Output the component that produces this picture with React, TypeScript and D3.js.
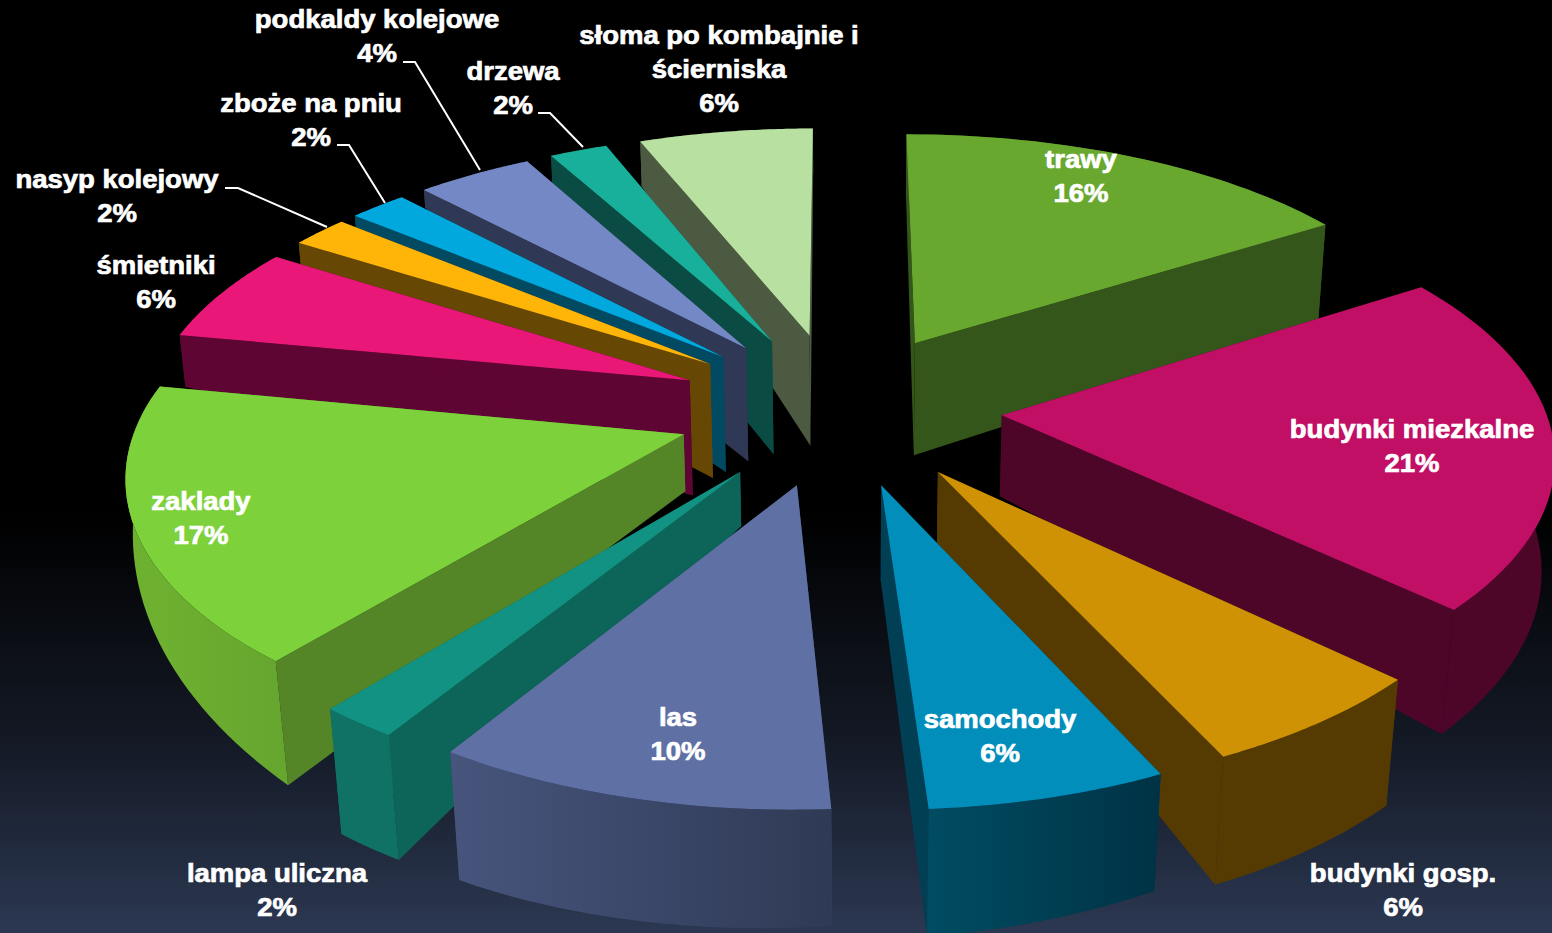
import React from "react";
import * as d3 from "d3";

const categories = ["trawy","budynki miezkalne","budynki gosp.","samochody","las","lampa uliczna","zaklady","śmietniki","nasyp kolejowy","zboże na pniu","podkaldy kolejowe","drzewa","słoma po kombajnie i"];
const values = [16,21,6,6,10,2,17,6,2,2,4,2,6];
const percentLabels = ["16%","21%","6%","6%","10%","2%","17%","6%","2%","2%","4%","2%","6%"];

// Appearance of each slice
const topColors = ["#69a82f","#c10f66","#ce9204","#028eba","#5e70a4","#129282","#7dd13a","#e91878","#ffb508","#00a8dd","#7488c6","#18b09b","#b8e0a0"];
const sideColors = ["#35561a","#4d0528","#553a02","#013f55","#3a4768","#0c6558","#548628","#5f0533","#664703","#024a62","#2f3855","#0a4c43","#4d5a42"];
const outerFrom = ["#35561a","#4d0528","#553a02","#004c62","#47557d","#0f7264","#6eb030","#5f0533","#664703","#024a62","#2f3855","#0a4c43","#4d5a42"];
const outerTo = ["#35561a","#4d0528","#553a02","#003245","#2f3a55","#0f7264","#66a62f","#5f0533","#664703","#024a62","#2f3855","#0a4c43","#4d5a42"];
// Wall depth per slice in px: at the apex, at the arc start, at the arc end
const depthApex = [112,81,71,95,90,54,57,115,114,115,113,113,110];
const depthStart = [60,100,126,117,117,125,124,52,22,14,18,28,45];
const depthEnd = [100,124,128,128,128,125,30,30,20,14,18,28,45];

const labelX = [1081,1412,1403,1000,678,277,201,156,117,311,377,513,719];
const labelY = [160,430,874,720,718,874,502,266,180,104,20,72,36];
const leaders: [number,number][][] = [
  [[225,188],[238,188],[327,227]],
  [[337,145],[349,145],[385,203]],
  [[403,62],[415,62],[480,170]],
  [[538,113],[550,113],[583,147]],
];

const W = 1552, H = 933;
const cx = 839, cy = 408, S = 543, T = 255, perspX = 0.13, perspY = 0.14, explode = 0.3;
const nadirX = 857, nadirY = 6500;

const project = (u: number, v: number): [number, number] => [
  cx + (S * u) / (1 + perspX * v),
  cy - (T * v) / (1 + perspY * v),
];
const drop = (p: [number, number], d: number): [number, number] => [
  p[0] + ((nadirX - p[0]) * d) / (nadirY - p[1]),
  p[1] + d,
];

const pieGen = d3.pie<number>().sort(null).startAngle(0).endAngle(2 * Math.PI);
const arcs = pieGen(values);
const line = d3.line<[number, number]>();

const slices = arcs.map((a, i) => {
  const mid = (a.startAngle + a.endAngle) / 2;
  const ou = explode * Math.sin(mid), ov = explode * Math.cos(mid);
  const apex = project(ou, ov);
  const angles = d3.range(0, 41).map((k) => a.startAngle + ((a.endAngle - a.startAngle) * k) / 40);
  const rim = angles.map((t) => project(ou + Math.sin(t), ov + Math.cos(t)));
  const depthAt = d3.scaleLinear().domain([0, 40]).range([depthStart[i], depthEnd[i]]);
  const rimLow = rim.map((p, k) => drop(p, depthAt(k)));
  const apexLow = drop(apex, depthApex[i]);
  return { i, mid, apex, apexLow, rim, rimLow };
});
const order = [...slices].sort((a, b) => Math.cos(b.mid) - Math.cos(a.mid));

export default function App() {
  return (
    <svg width={W} height={H} viewBox={`0 0 ${W} ${H}`} style={{ position: "absolute", left: 0, top: 0, display: "block" }}>
      <defs>
        <linearGradient id="bg" x1="0" y1="0" x2="0" y2="1">
          <stop offset="0" stopColor="#000000" />
          <stop offset="0.55" stopColor="#000000" />
          <stop offset="0.8" stopColor="#141a26" />
          <stop offset="1" stopColor="#2c3852" />
        </linearGradient>
        {slices.map((s) => (
          <linearGradient key={s.i} id={`outer${s.i}`} gradientUnits="userSpaceOnUse"
            x1={Math.min(s.rim[0][0], s.rim[40][0])} y1="0" x2={Math.max(s.rim[0][0], s.rim[40][0])} y2="0">
            <stop offset="0" stopColor={outerFrom[s.i]} />
            <stop offset="1" stopColor={outerTo[s.i]} />
          </linearGradient>
        ))}
      </defs>
      <rect width={W} height={H} fill="url(#bg)" />
      {order.map((s) => {
        const last = s.rim.length - 1;
        return (
          <g key={s.i}>
            <path d={line([s.apex, s.rim[0], s.rimLow[0], s.apexLow])! + "Z"} fill={sideColors[s.i]} />
            <path d={line([s.apex, s.rim[last], s.rimLow[last], s.apexLow])! + "Z"} fill={sideColors[s.i]} />
            <path d={line([...s.rim, ...[...s.rimLow].reverse()])! + "Z"} fill={`url(#outer${s.i})`} />
            <path d={line([s.apex, ...s.rim])! + "Z"} fill={topColors[s.i]} />
          </g>
        );
      })}
      {leaders.map((pts, k) => (
        <polyline key={k} points={pts.map((p) => p.join(",")).join(" ")} fill="none" stroke="#ffffff" strokeWidth={2} />
      ))}
      <g fontFamily="'Liberation Sans', Arial, sans-serif" fontWeight="700" fontSize={25} fill="#ffffff" stroke="#ffffff" strokeWidth={0.7} textAnchor="middle">
        {categories.map((name, k) => (
          <g key={k} transform={`translate(${labelX[k]},${labelY[k]}) scale(1.1,1)`}>
            <text y={8}>{name}</text>
            {k === 12 ? <text y={42}>ścierniska</text> : null}
            <text y={k === 12 ? 76 : 42}>{percentLabels[k]}</text>
          </g>
        ))}
      </g>
    </svg>
  );
}
